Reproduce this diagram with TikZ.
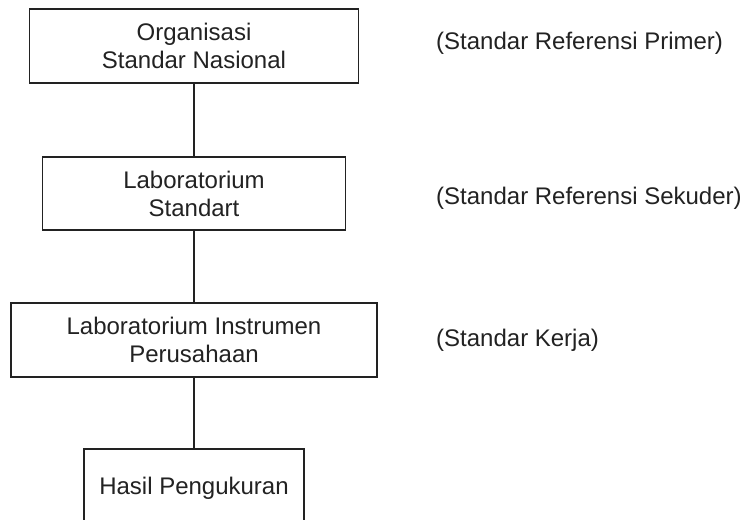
\documentclass[tikz,border=0pt]{standalone}
\usepackage{fontspec}
\setmainfont{Liberation Sans}
\usepackage{tikz}
\usetikzlibrary{positioning}
\definecolor{tinta}{HTML}{222222}
\tikzset{lembaga/.style={draw=tinta,line width=1.6pt,fill=white,align=center,text=tinta,font=\fontsize{24}{28}\selectfont,inner sep=0pt}, garis/.style={line width=1.6pt,draw=tinta}, ket/.style={anchor=west,text=tinta,font=\fontsize{24}{28}\selectfont,inner sep=0pt}}

\begin{document}
\begin{tikzpicture}[x=1pt,y=-1pt]
\clip (0,0) rectangle (748,520);
\fill[white] (0,0) rectangle (748,520);
\node[lembaga,minimum width=329pt,minimum height=74pt] (osn) at (194,46) {Organisasi\\Standar Nasional};
\node[lembaga,minimum width=303pt,minimum height=73pt] (lab) at (194,193.5) {Laboratorium\\Standart};
\node[lembaga,minimum width=366pt,minimum height=74pt] (lip) at (194,340) {Laboratorium Instrumen\\Perusahaan};
\node[lembaga,minimum width=220pt,minimum height=78pt] (hsl) at (194,488) {Hasil Pengukuran};
\draw[garis] (osn)--(lab);
\draw[garis] (lab)--(lip);
\draw[garis] (lip)--(hsl);
\node[ket] (primer) at (436,43) {(Standar Referensi Primer)};
\node[ket] (sekunder) at (436,198) {(Standar Referensi Sekuder)};
\node[ket] (kerja) at (436,340) {(Standar Kerja)};
\end{tikzpicture}
\end{document}
